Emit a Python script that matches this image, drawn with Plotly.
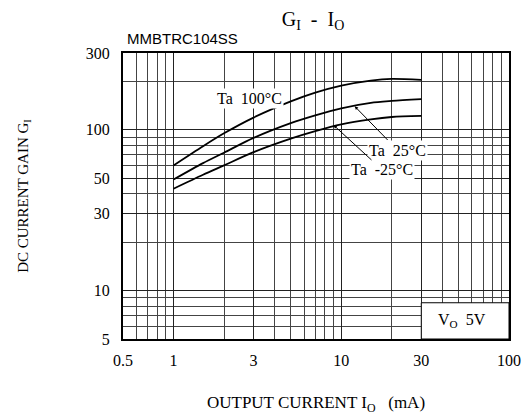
import plotly.graph_objects as go

io_ma = [1, 1.5, 2, 3, 5, 7, 10, 15, 20, 30]
gain_100 = [60, 79, 95, 119, 150, 170, 188, 202, 207, 204]
gain_25 = [49, 62, 72, 89, 110, 123, 136, 147, 151, 155]
gain_m25 = [43, 52.5, 60, 72.5, 88, 98, 108, 116, 120, 122]

x_ticks = [0.5, 1, 3, 10, 30, 100]
x_ticktext = ["0.5", "1", "3", "10", "30", "100"]
y_ticks = [5, 10, 30, 50, 100, 300]
y_ticktext = ["5", "10", "30", "50", "100", "300"]

serif = "Liberation Serif, Times New Roman, serif"

fig = go.Figure()
for g in (gain_100, gain_25, gain_m25):
    fig.add_trace(go.Scatter(x=io_ma, y=g, mode="lines",
                             line=dict(color="black", width=1.8, shape="spline", smoothing=0.8),
                             showlegend=False, hoverinfo="skip"))

axis_common = dict(type="log", showline=True, linecolor="black", linewidth=2, mirror=True,
                   showgrid=True, gridcolor="#222222", gridwidth=1, ticks="",
                   tickfont=dict(family=serif, size=16, color="black"),
                   minor=dict(showgrid=True, dtick="D1", gridcolor="#444444", gridwidth=1))

fig.update_xaxes(range=[-0.30103, 2], tickvals=x_ticks, ticktext=x_ticktext, ticklabelstandoff=6,
                 **axis_common,
                 title=dict(text="OUTPUT CURRENT I<sub>O</sub>   (mA)", font=dict(family=serif, size=17, color="black"), standoff=28))
fig.update_yaxes(range=[0.69897, 2.47712], tickvals=y_ticks, ticktext=y_ticktext, ticklabelstandoff=8,
                 **axis_common,
                 title=dict(text="DC CURRENT GAIN G<sub>I</sub>", font=dict(family=serif, size=15, color="black"), standoff=54))

# V_O box
fig.add_shape(type="rect", xref="x", yref="y", x0=30, x1=100, y0=5, y1=8.4,
              fillcolor="white", line=dict(color="black", width=1), layer="above")

lab_font = dict(family=serif, size=16, color="black")
fig.add_annotation(x=0.456, y=2.197, xref="x", yref="y", text="Ta  100°C", showarrow=False,
                   font=lab_font, bgcolor="white")
fig.add_annotation(x=1.08, y=2.146, xref="x", yref="y", text="Ta  25°C", showarrow=True,
                   ax=1.335, ay=1.874, axref="x", ayref="y", arrowhead=2, arrowsize=0.7, arrowwidth=1,
                   arrowcolor="black", font=lab_font, bgcolor="white")
fig.add_annotation(x=0.954, y=2.029, xref="x", yref="y", text="Ta  -25°C", showarrow=True,
                   ax=1.245, ay=1.750, axref="x", ayref="y", arrowhead=2, arrowsize=0.7, arrowwidth=1,
                   arrowcolor="black", font=lab_font, bgcolor="white")
fig.add_annotation(x=1.72, y=0.817, xref="x", yref="y", text="V<sub>O</sub>  5V", showarrow=False,
                   font=lab_font)
fig.add_annotation(text="MMBTRC104SS", xref="paper", yref="paper", x=0.005, y=1.052,
                   xanchor="left", yanchor="middle", showarrow=False,
                   font=dict(family="Liberation Sans, Arial, sans-serif", size=15, color="black"))

fig.update_layout(
    width=526, height=418,
    margin=dict(l=123, r=17, t=53, b=79, autoexpand=False),
    paper_bgcolor="white", plot_bgcolor="white",
    title=dict(text="G<sub>I</sub>  -  I<sub>O</sub>", x=0.595, xanchor="center", y=0.955, yanchor="middle",
               font=dict(family=serif, size=20, color="black")),
)

fig.write_html("out.html", config={"displayModeBar": False},
               post_script="document.body.style.margin='0px';")
